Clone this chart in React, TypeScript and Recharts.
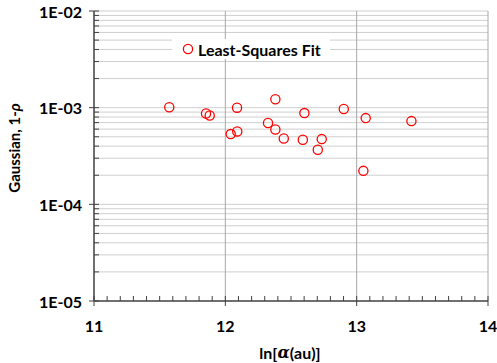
import React from "react";
import {
  ScatterChart, Scatter, XAxis, YAxis, CartesianGrid, ReferenceLine,
} from "recharts";

// ln[alpha(au)] values and the matching 1 - rho of the Gaussian fit
const lnAlpha = [
  11.573, 11.853, 11.881, 12.089, 12.041, 12.091, 12.381, 12.325, 12.381,
  12.445, 12.602, 12.59, 12.734, 12.704, 12.902, 13.069, 13.051, 13.417,
];
const oneMinusRho = [
  1.01e-3, 8.7e-4, 8.3e-4, 1.0e-3, 5.33e-4, 5.68e-4, 1.22e-3, 6.93e-4, 5.94e-4,
  4.8e-4, 8.79e-4, 4.66e-4, 4.73e-4, 3.67e-4, 9.68e-4, 7.8e-4, 2.22e-4, 7.26e-4,
];

const xMajor = [11, 12, 13, 14];
const yMajor = [1e-5, 1e-4, 1e-3, 1e-2];
const xTicks = Array.from({ length: 31 }, (_, i) => Math.round((11 + i * 0.1) * 10) / 10);
const yTicks = [-5, -4, -3].flatMap((e) =>
  [1, 2, 3, 4, 5, 6, 7, 8, 9].map((m) => Number((m * Math.pow(10, e)).toPrecision(3)))
).concat([1e-2]);

const data = lnAlpha.map((x, i) => ({ x, y: oneMinusRho[i] }));

const FONT = "Lato, 'Open Sans', sans-serif";
const AXIS = "#404040";

const fmtSci = (v: number) => {
  const e = Math.round(Math.log10(v));
  return `1E-${String(-e).padStart(2, "0")}`;
};

const YTick = (props: any) => {
  const { x, y, payload } = props;
  const v = payload.value;
  const major = yMajor.some((m) => Math.abs(m - v) / m < 1e-6);
  return (
    <g>
      <line x1={major ? x - 5 : x} x2={x + 5} y1={y} y2={y} stroke={AXIS} strokeWidth={1} />
      {major && (
        <text x={x - 12} y={y} textAnchor="end" dominantBaseline="central"
          fontFamily={FONT} fontWeight="bold" fontSize={16} fill="#000">
          {fmtSci(v)}
        </text>
      )}
    </g>
  );
};

const XTick = (props: any) => {
  const { x, y, payload } = props;
  const v = payload.value;
  const major = xMajor.includes(v);
  return (
    <g>
      <line x1={x} x2={x} y1={y - 5} y2={major ? y + 5 : y} stroke={AXIS} strokeWidth={1} />
      {major && (
        <text x={x} y={y + 24} textAnchor="middle" dominantBaseline="central"
          fontFamily={FONT} fontWeight="bold" fontSize={16} fill="#000">
          {v}
        </text>
      )}
    </g>
  );
};

const Ring = (props: any) => (
  <circle cx={props.cx} cy={props.cy} r={4.6} fill="none" stroke="#ff0000" strokeWidth={1.3} />
);

const LegendBox = () => (
  <div style={{
    position: "absolute", left: 172, top: 39, background: "#fff", width: 158, height: 20,
    display: "flex", alignItems: "center",
    fontFamily: FONT, fontWeight: "bold", fontSize: 16, color: "#000",
  }}>
    <svg width={26} height={20}>
      <circle cx={16} cy={10} r={4.6} fill="none" stroke="#ff0000" strokeWidth={1.3} />
    </svg>
    <span>Least-Squares Fit</span>
  </div>
);

export default function App() {
  return (
    <div style={{ position: "absolute", left: 0, top: 0, width: 497, height: 363, background: "#fff" }}>
      <ScatterChart width={497} height={363} margin={{ top: 11, right: 9, left: 0, bottom: 0 }}>
        <CartesianGrid horizontal vertical={false} horizontalValues={yTicks.slice(1)}
          stroke="#cfcfcf" strokeWidth={1} />
        <ReferenceLine x={12} stroke="#a8a8a8" strokeWidth={1} />
        <ReferenceLine x={13} stroke="#a8a8a8" strokeWidth={1} />
        <ReferenceLine x={14} stroke="#a8a8a8" strokeWidth={1} />
        <XAxis type="number" dataKey="x" domain={[11, 14]} ticks={xTicks} interval={0}
          height={62} axisLine={{ stroke: AXIS, strokeWidth: 1.5 }} tickLine={false}
          tickSize={0} tickMargin={0} tick={<XTick />} allowDataOverflow />
        <YAxis type="number" dataKey="y" scale="log" domain={[1e-5, 1e-2]} ticks={yTicks}
          interval={0} width={94} axisLine={{ stroke: AXIS, strokeWidth: 1.5 }} tickLine={false}
          tickSize={0} tickMargin={0} tick={<YTick />} allowDataOverflow />
        <Scatter data={data} shape={<Ring />} isAnimationActive={false} />
        <text x={290} y={352} textAnchor="middle" dominantBaseline="central"
          fontFamily={FONT} fontWeight="bold" fontSize={16} fill="#000">
          ln[<tspan fontStyle="italic" fontFamily="'DejaVu Serif', serif">α</tspan>(au)]
        </text>
        <text x={0} y={0} transform="translate(14,148) rotate(-90)" textAnchor="middle"
          dominantBaseline="central" fontFamily={FONT} fontWeight="bold" fontSize={15} fill="#000">
          Gaussian, 1-<tspan fontStyle="italic">ρ</tspan>
        </text>
      </ScatterChart>
      <LegendBox />
    </div>
  );
}
